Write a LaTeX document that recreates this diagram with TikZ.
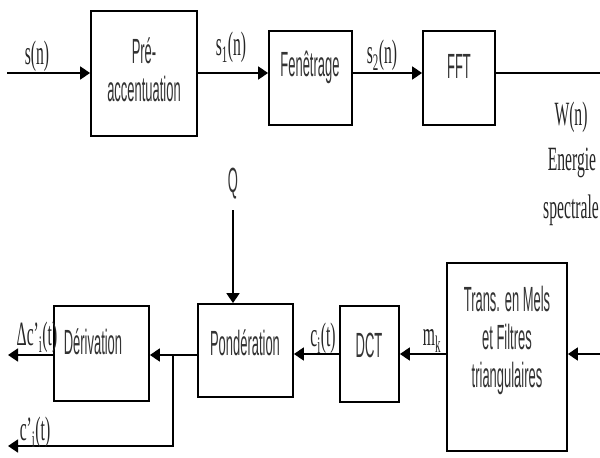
\documentclass[tikz,border=0pt]{standalone}
\usepackage{fontspec}
\usetikzlibrary{arrows.meta}
\newfontfamily\boxfnt[FakeStretch=0.37]{Liberation Sans}
\newfontfamily\labfnt[FakeStretch=0.46]{Liberation Serif}
\tikzset{
  blk/.style={draw=black, line width=1.8pt, minimum width=#1, inner sep=0pt},
  btxt/.style={font=\boxfnt\fontsize{35}{38}\selectfont, text=black!80, align=center, inner sep=0pt},
  ltxt/.style={font=\labfnt\fontsize{34}{48}\selectfont, text=black!85, align=center, inner sep=0pt},
  wire/.style={line width=1.8pt},
  arr/.style={line width=1.8pt, -{Triangle[length=10pt,width=13pt]}},
}
\begin{document}
\begin{tikzpicture}[x=1pt,y=-1pt]
\useasboundingbox (0,0) rectangle (600,458);
% boxes
\node[blk=106pt, minimum height=125pt] (pre) at (144,73.5) {};
\node[blk=83pt, minimum height=94pt] (fen) at (310.5,78) {};
\node[blk=72pt, minimum height=94pt] (fft) at (459,78) {};
\node[blk=95pt, minimum height=93pt] (pond) at (245.5,350.5) {};
\node[blk=95pt, minimum height=95pt] (der) at (101.5,353.5) {};
\node[blk=59pt, minimum height=96pt] (dct) at (369.5,354) {};
\node[blk=120pt, minimum height=188pt] (mel) at (507,357) {};
% box texts
\node[btxt] (tpre) at (144,70) {Pré-\\accentuation};
\node[btxt] (tfen) at (310,67) {Fenêtrage};
\node[btxt] (tfft) at (459,66) {FFT};
\node[btxt] (tder) at (93,342) {Dérivation};
\node[btxt] (tpond) at (245,343) {Pondération};
\node[btxt] (tdct) at (369,345) {DCT};
\node[btxt] (tmel) at (507,340) {Trans. en Mels\\et Filtres\\triangulaires};
% coordinates
\coordinate (in) at (7,73);
\coordinate (out) at (600,73);
\coordinate (inb) at (600,354);
\coordinate (qtop) at (233,210);
\coordinate (br) at (173,355);
\coordinate (brd) at (173,446);
\coordinate (oc) at (8,446);
\coordinate (od) at (8,355);
% wires
\draw[arr] (in) -- (pre.west |- in);
\draw[arr] (pre.east |- in) -- (fen.west |- in);
\draw[arr] (fen.east |- in) -- (fft.west |- in);
\draw[wire] (fft.east |- in) -- (out);
\draw[arr] (inb) -- (mel.east |- inb);
\draw[arr] (mel.west |- inb) -- (dct.east |- inb);
\draw[arr] (dct.west |- inb) -- (pond.east |- inb);
\draw[arr] (pond.west |- br) -- (der.east |- br);
\draw[arr] (der.west |- od) -- (od);
\draw[arr] (br) -- (brd) -- (oc);
\draw[arr] (qtop) -- (pond.north -| qtop);
% labels
\node[ltxt] (ls) at (37,56) {s(n)};
\node[ltxt] (ls1) at (231,47) {s\textsubscript{1}(n)};
\node[ltxt] (ls2) at (382,55) {s\textsubscript{2}(n)};
\node[ltxt] (lw) at (571,117) {W(n)};
\node[ltxt] (le) at (572,163) {Energie};
\node[ltxt] (lsp) at (571,210) {spectrale};
\node[btxt] (lq) at (233,184) {Q};
\node[ltxt] (ldc) at (37,337) {Δc’\textsubscript{i}(t)};
\node[ltxt] (lc) at (35,432) {c’\textsubscript{i}(t)};
\node[ltxt] (lci) at (323,338) {c\textsubscript{i}(t)};
\node[ltxt] (lm) at (432,341) {m\textsubscript{k}};
\end{tikzpicture}
\end{document}
